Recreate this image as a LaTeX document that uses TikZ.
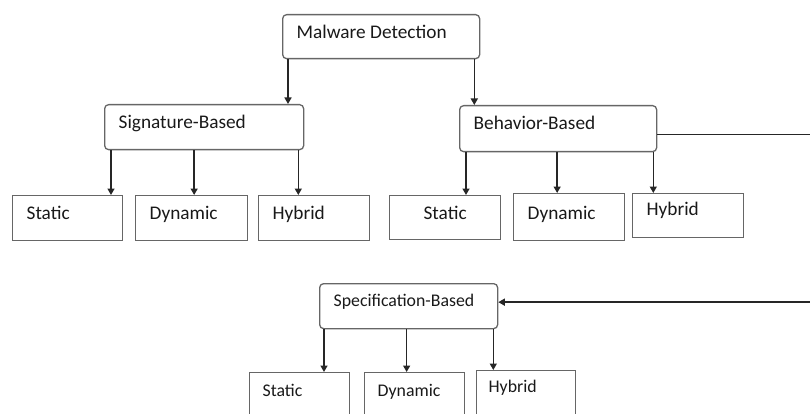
\documentclass[tikz,border=0pt]{standalone}
\usepackage{fontspec}
\setmainfont{Carlito}
\usetikzlibrary{arrows.meta}

\begin{document}
\begin{tikzpicture}[x=1pt,y=-1pt,
		font=\fontsize{19.3}{23}\selectfont,
		every node/.style={anchor=north west,inner ysep=0pt,inner xsep=14pt,text=black!90,
			text height=24pt,text depth=21pt,line width=1.3pt,draw=black!60,align=left},
		group/.style={rounded corners=4pt,text width=#1},
		leaf/.style={text width=#1},
		small/.style={font=\fontsize{17.8}{21}\selectfont},
		arr/.style={line width=1.5pt,draw=black!85,-{Triangle[width=7pt,length=6.5pt]}}]
	\useasboundingbox (0,0) rectangle (810,414);
	\node[group=169pt,text depth=20pt] (mal) at (282,14) {Malware\hspace{-2pt} Detection};
	\node[group=171pt] (sig) at (104,104) {Signature-Based};
	\node[group=169pt,text depth=22pt] (beh) at (459,105) {Behavior-Based};
	\node[group=150pt,small,text height=23pt,text depth=22pt] (spec) at (319,283) {\mbox{Specification-Based}};
	\node[leaf=82pt] (sigstat) at (12,195) {Static};
	\node[leaf=84pt] (sigdyn) at (135,195) {Dynamic};
	\node[leaf=83pt] (sighyb) at (258,195) {Hybrid};
	\node[leaf=83pt,align=center,text depth=20pt] (behstat) at (389,195) {Static};
	\node[leaf=83pt,text height=26pt] (behdyn) at (513,193) {Dynamic};
	\node[leaf=83pt,text height=22pt,text depth=22pt] (behhyb) at (632,193) {Hybrid};
	\node[leaf=74pt,small,inner xsep=13pt] (specstat) at (249,372) {Static};
	\node[leaf=74pt,small,inner xsep=13pt] (specdyn) at (364,372) {Dynamic};
	\node[leaf=75pt,small,inner xsep=12pt,text height=22pt,text depth=25pt] (spechyb) at (476,370) {Hybrid};
	\draw[arr] ([xshift=6pt]mal.south west) -- ([xshift=6pt]mal.south west |- sig.north);
	\draw[arr] ([xshift=-6pt]mal.south east) -- ([xshift=-6pt]mal.south east |- beh.north);
	\draw[arr] ([xshift=7pt]sig.south west) -- ([xshift=7pt]sig.south west |- sigstat.north);
	\draw[arr] ([xshift=-10pt]sig.south) -- ([xshift=-10pt]sig.south |- sigdyn.north);
	\draw[arr] ([xshift=-6pt]sig.south east) -- ([xshift=-6pt]sig.south east |- sighyb.north);
	\draw[arr] ([xshift=7pt]beh.south west) -- ([xshift=7pt]beh.south west |- behstat.north);
	\draw[arr] ([xshift=-1pt]beh.south) -- ([xshift=-1pt]beh.south |- behdyn.north);
	\draw[arr] ([xshift=-4pt]beh.south east) -- ([xshift=-4pt]beh.south east |- behhyb.north);
	\draw[arr] ([xshift=5pt]spec.south west) -- ([xshift=5pt]spec.south west |- specstat.north);
	\draw[arr] ([xshift=-2pt]spec.south) -- ([xshift=-2pt]spec.south |- specdyn.north);
	\draw[arr] ([xshift=-5pt]spec.south east) -- ([xshift=-5pt]spec.south east |- spechyb.north);
	\draw[arr] ([yshift=-6pt]beh.east) -- ++(160,0) |- ([yshift=4pt]spec.east);
\end{tikzpicture}
\end{document}
